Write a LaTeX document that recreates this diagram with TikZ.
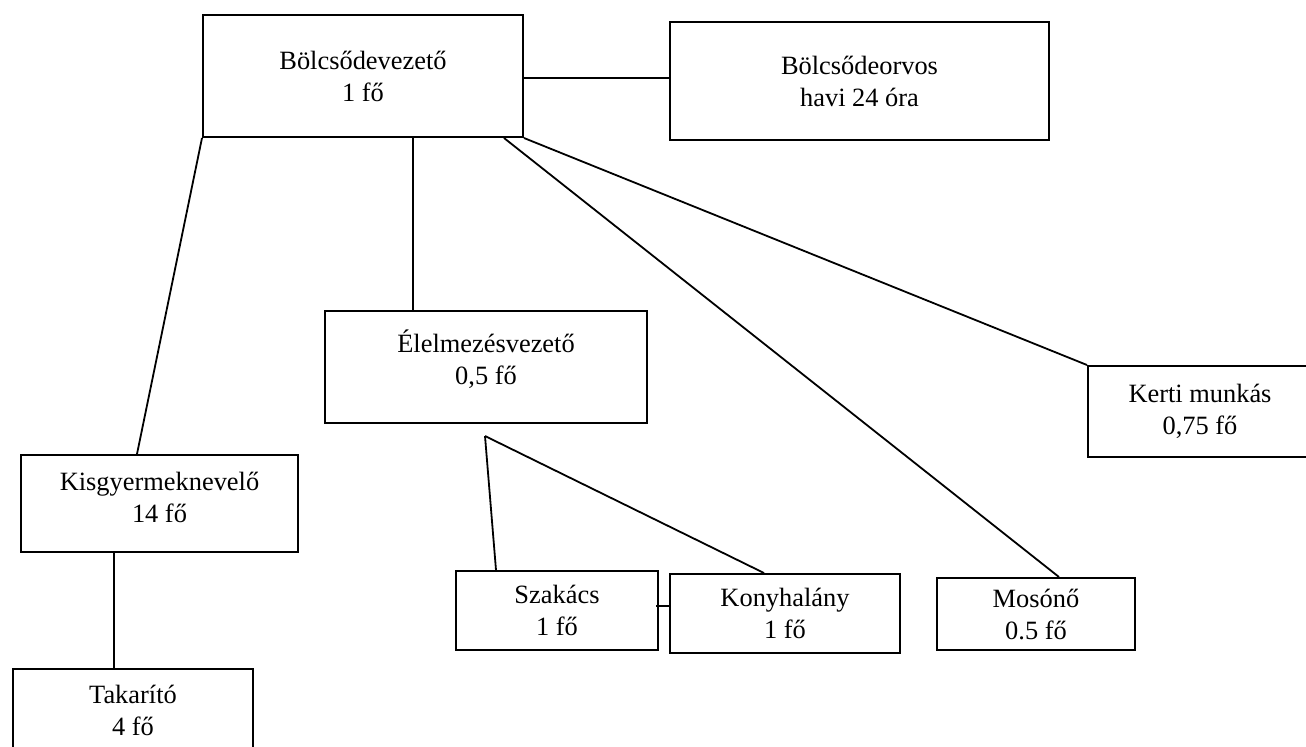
\documentclass[tikz,border=0pt]{standalone}
\usepackage{fontspec}
\setmainfont{Liberation Serif}
\usetikzlibrary{calc}
\tikzset{
  box/.style={draw, line width=1pt, inner sep=0pt, align=center,
    font=\fontsize{13.2}{16}\selectfont},
  boxtext/.style={align=center, inner sep=0pt, font=\fontsize{13.2}{16}\selectfont},
  link/.style={line width=0.9pt}
}
\begin{document}
\begin{tikzpicture}[x=0.5pt,y=-0.5pt]
\useasboundingbox (0,0) rectangle (1306,746);
\node[box, minimum width=160pt, minimum height=61pt] (vez) at (363,76) {Bölcsődevezető\\1 fő};
\node[box, minimum width=189.5pt, minimum height=59pt] (orv) at (859.5,81) {Bölcsődeorvos\\havi 24 óra};
\node[box, minimum width=161pt, minimum height=56pt] (elm) at (486,367) {};
\node[boxtext] (elmtext) at (486,359) {Élelmezésvezető\\0,5 fő};
\node[box, minimum width=112pt, minimum height=45.5pt] (ker) at (1200,411.5) {Kerti munkás\\0,75 fő};
\node[box, minimum width=138.5pt, minimum height=48.5pt] (kis) at (159.5,503.5) {};
\node[boxtext] (kistext) at (159.5,497) {Kisgyermeknevelő\\14 fő};
\node[box, minimum width=120pt, minimum height=65.5pt] (tak) at (133,734.5) {};
\node[boxtext] (taktext) at (133,710) {Takarító\\4 fő};
\node[box, minimum width=101pt, minimum height=39.5pt] (sza) at (557,610.5) {Szakács\\1 fő};
\node[box, minimum width=115pt, minimum height=39.5pt] (kon) at (785,613.5) {Konyhalány\\1 fő};
\node[box, minimum width=99pt, minimum height=36pt] (mos) at (1036,614) {Mosónő\\0.5 fő};
\coordinate (apex) at (485,436);
\draw[link] (vez.south west) -- ($(kis.north west)+(117,0)$);
\draw[link] ($(vez.south west)+(211,0)$) -- ($(elm.north west)+(89,0)$);
\draw[link] ($(vez.south east)+(-20,0)$) -- ($(mos.north west)+(123,0)$);
\draw[link] (vez.south east) -- (ker.north west);
\draw[link] ($(vez.north east)+(0,64)$) -- ($(orv.north west)+(0,57)$);
\draw[link] (apex) -- ($(sza.north west)+(41,0)$);
\draw[link] (apex) -- ($(kon.north west)+(95,0)$);
\draw[link] ($(sza.north east)+(-3,36)$) -- ($(kon.north west)+(2,33)$);
\draw[link] ($(kis.south west)+(94,0)$) -- ($(tak.north west)+(102,0)$);
\end{tikzpicture}
\end{document}
